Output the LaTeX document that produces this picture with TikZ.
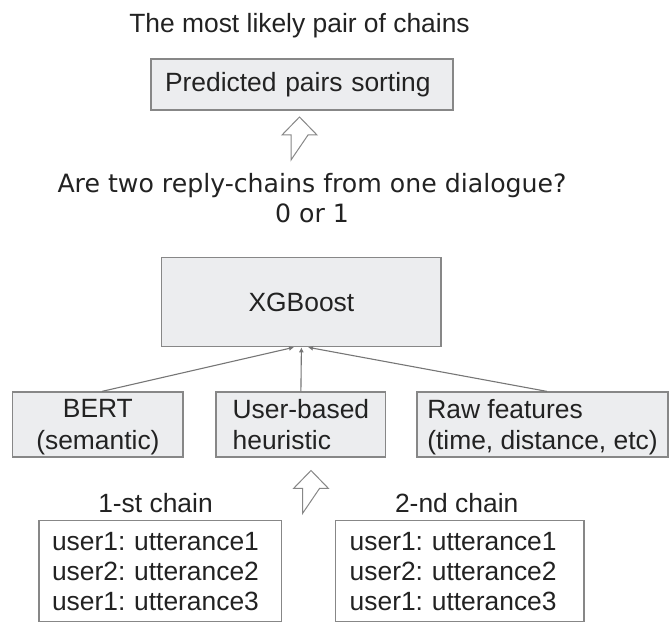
\documentclass[tikz,border=0pt]{standalone}
\usepackage{fontspec}
\setmainfont{Liberation Sans}
\newfontfamily\dejavu{DejaVu Sans}
\usetikzlibrary{arrows.meta}
\frenchspacing
\definecolor{boxgrey}{RGB}{236,237,239}
\definecolor{edgegrey}{RGB}{135,135,135}
\definecolor{inkgrey}{RGB}{34,34,34}
\definecolor{linkgrey}{RGB}{118,118,118}
\newcommand{\hollowup}[1]{\path[draw=edgegrey,fill=white,line width=1pt,line join=miter] (#1) ++(-8.5,0) -- ++(0,25) -- ++(-9,0) -- ++(17.5,18) -- ++(17.5,-18) -- ++(-9,0) -- cycle;}
\begin{document}
\begin{tikzpicture}[x=1pt,y=1pt,
  txt/.style={text=inkgrey,inner sep=0pt,font=\fontsize{26.4}{31.5}\selectfont},
  greybox/.style={txt,draw=edgegrey,fill=boxgrey,line width=1.2pt},
  chainbox/.style={txt,draw=edgegrey,fill=white,line width=1.2pt,align=left,minimum height=101pt,font=\fontsize{26.4}{30}\selectfont},
  link/.style={draw=linkgrey,line width=1.1pt,-{Latex[length=5pt,width=5pt]}}]
\useasboundingbox (0,0) rectangle (670,624);
\node[txt,anchor=base] (title) at (299.5,591) {The most likely pair of chains};
\node[greybox,align=left,text width=274pt,inner xsep=14pt,minimum height=51pt] (sorting) at (302,539.5) {Predicted pairs sorting};
\coordinate (sortarrow) at (299.5,464);
\hollowup{sortarrow}
\node[txt,anchor=base,align=center,font=\dejavu\fontsize{25.2}{30}\selectfont] (question) at (312,401) {Are two reply-chains from one dialogue?\\0 or 1};
\node[greybox,minimum width=279.3pt,minimum height=89.4pt] (xgb) at (301.4,322) {XGBoost};
\node[greybox,align=center,text depth=0pt,minimum width=170.3pt,minimum height=65pt] (bert) at (97.9,199.5) {BERT\\(semantic)};
\node[greybox,align=left,text depth=0pt,minimum width=169.7pt,minimum height=65pt] (user) at (300.9,199.5) {User-based\\heuristic};
\node[greybox,align=left,text depth=0pt,minimum width=251pt,minimum height=65pt] (raw) at (542.5,199.5) {Raw features\\(time, distance, etc)};
\path[link] ([xshift=4pt]bert.north) -- ([xshift=-7.4pt]xgb.south);
\path[link] (user.north) -- (xgb.south);
\path[link] ([xshift=4.5pt]raw.north) -- ([xshift=6.6pt]xgb.south);
\coordinate (chainarrow) at (311,110.5);
\hollowup{chainarrow}
\node[txt,anchor=base] (firstlabel) at (155.5,111.3) {1-st chain};
\node[txt,anchor=base] (secondlabel) at (456.7,111.3) {2-nd chain};
\node[chainbox,text width=216.7pt,inner xsep=13pt] (firstchain) at (160.35,52.8) {user1: utterance1\\user2: utterance2\\user1: utterance3};
\node[chainbox,text width=220.3pt,inner xsep=14pt] (secondchain) at (459.85,52.8) {user1: utterance1\\user2: utterance2\\user1: utterance3};
\end{tikzpicture}
\end{document}
